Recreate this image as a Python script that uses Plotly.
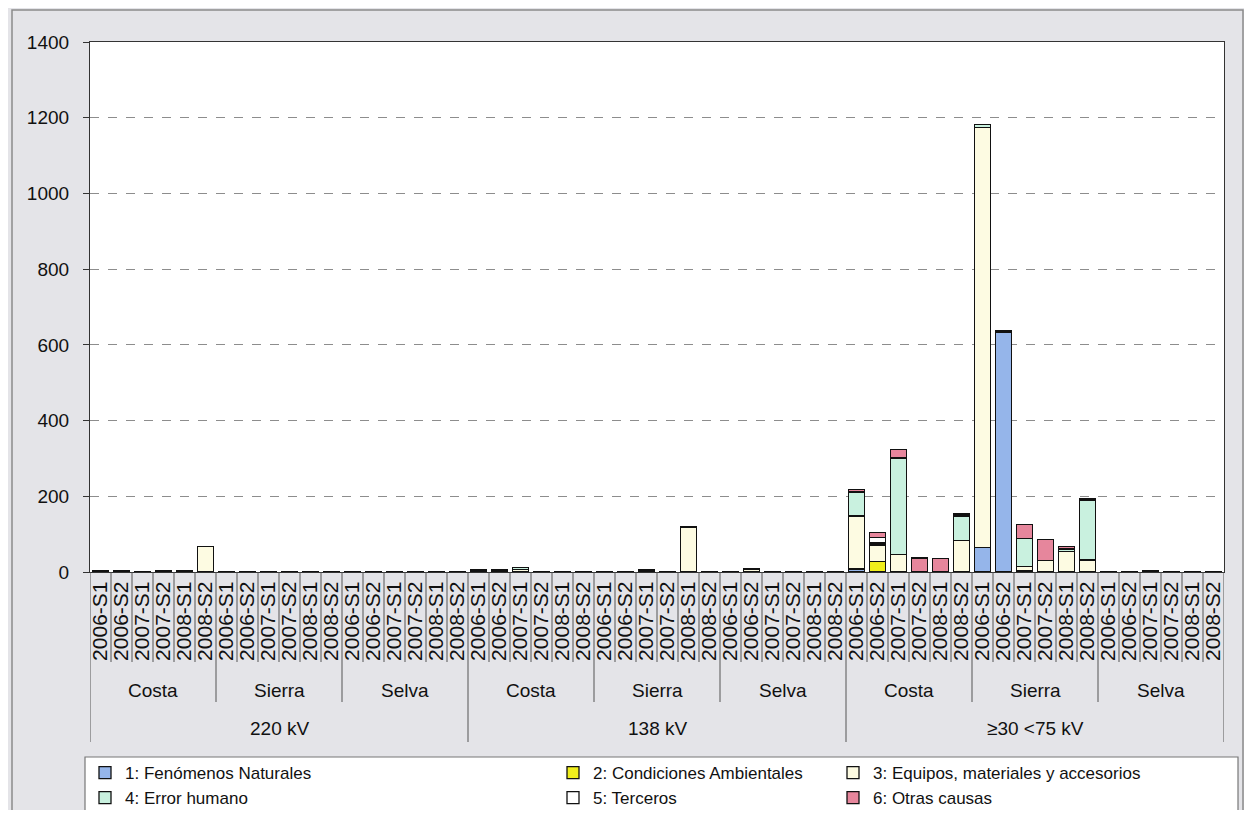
import plotly.graph_objects as go

# ---- data ----
voltages = ["220 kV", "138 kV", "≥30 <75 kV"]
regions = ["Costa", "Sierra", "Selva"]
periods = ["2006-S1", "2006-S2", "2007-S1", "2007-S2", "2008-S1", "2008-S2"]

series_names = [
    "1: Fenómenos Naturales",
    "2: Condiciones Ambientales",
    "3: Equipos, materiales y accesorios",
    "4: Error humano",
    "5: Terceros",
    "6: Otras causas",
]

# 54 bars: voltage x region x period
s1_fenomenos = [0, 0, 0, 0, 0, 0,  0, 0, 0, 0, 0, 0,  0, 0, 0, 0, 0, 0,
                0, 0, 0, 0, 0, 0,  0, 0, 0, 0, 0, 0,  0, 0, 0, 0, 0, 0,
                6, 0, 0, 0, 0, 0,  65, 632, 4, 0, 0, 0,  0, 0, 0, 0, 0, 0]
s2_condiciones = [0, 0, 0, 0, 0, 0,  0, 0, 0, 0, 0, 0,  0, 0, 0, 0, 0, 0,
                  0, 0, 0, 0, 0, 0,  0, 0, 0, 0, 0, 0,  0, 0, 0, 0, 0, 0,
                  4, 27, 0, 0, 0, 0,  0, 0, 0, 0, 0, 0,  0, 0, 0, 0, 0, 0]
s3_equipos = [2, 2, 1, 2, 2, 68,  0, 2, 0, 0, 0, 0,  0, 0, 0, 0, 0, 0,
              5, 4, 6, 2, 0, 2,  0, 0, 5, 2, 118, 2,  1, 6, 0, 0, 0, 2,
              138, 44, 46, 2, 2, 83,  1110, 0, 10, 30, 55, 32,  0, 1, 2, 0, 0, 2]
s4_error = [1, 1, 0, 1, 1, 0,  0, 0, 0, 0, 0, 0,  0, 0, 0, 0, 0, 0,
            2, 2, 6, 0, 0, 0,  0, 0, 1, 0, 2, 0,  0, 2, 0, 0, 0, 0,
            63, 6, 255, 0, 0, 65,  7, 5, 75, 0, 6, 158,  0, 0, 2, 0, 0, 0]
s5_terceros = [0, 0, 0, 0, 0, 0,  0, 0, 0, 0, 0, 0,  0, 0, 0, 0, 0, 0,
               0, 0, 0, 0, 0, 0,  0, 0, 0, 0, 0, 0,  0, 0, 0, 0, 0, 0,
               0, 14, 0, 0, 0, 0,  0, 0, 0, 0, 0, 0,  0, 0, 0, 0, 0, 0]
s6_otras = [0, 0, 0, 0, 0, 0,  0, 0, 0, 0, 0, 0,  0, 0, 0, 0, 0, 0,
            0, 0, 0, 0, 0, 0,  0, 0, 0, 0, 0, 0,  0, 0, 0, 0, 0, 0,
            7, 14, 22, 35, 33, 5,  0, 0, 37, 55, 7, 5,  0, 0, 0, 0, 0, 0]

series_values = [s1_fenomenos, s2_condiciones, s3_equipos, s4_error, s5_terceros, s6_otras]
series_colors = ["#95b5ea", "#f0ee1c", "#fdfbe2", "#c9f1df", "#ffffff", "#e6869c"]
legend_ids = ["legend", "legend2", "legend3", "legend", "legend2", "legend3"]

y_ticks = [0, 200, 400, 600, 800, 1000, 1200, 1400]

n_cat = len(voltages) * len(regions) * len(periods)
x_idx = list(range(n_cat))
tick_text = periods * (len(voltages) * len(regions))

FONT = "Liberation Sans, Arial, sans-serif"

# page is offset by the 8px body margin; figure sized to fit the viewport
FIG_W, FIG_H, OFF = 1236, 802, 8
# plot area in page pixels
L, R, T, B = 90, 1224, 42, 572
def px_x(p):
    return (p - L) / (R - L)
def px_y(p):
    return (B - p) / (B - T)

fig = go.Figure()
for name, vals, col, lg in zip(series_names, series_values, series_colors, legend_ids):
    fig.add_trace(go.Bar(
        x=x_idx, y=vals, name=name, legend=lg,
        marker=dict(color=col, line=dict(color="#111111", width=1.3)),
    ))

shapes = []
# outer frame
shapes.append(dict(type="rect", xref="paper", yref="paper", x0=px_x(12), x1=px_x(1243),
                   y0=px_y(840), y1=px_y(10), fillcolor="rgba(0,0,0,0)",
                   line=dict(color="#8a8a8a", width=1.5), layer="below"))
# legend box
shapes.append(dict(type="rect", xref="paper", yref="paper", x0=px_x(85), x1=px_x(1238),
                   y0=px_y(840), y1=px_y(757), fillcolor="#ffffff",
                   line=dict(color="#777777", width=1.2), layer="below"))

# category dividers
for b in range(n_cat + 1):
    if b % 18 == 0:
        yend = px_y(742)
    elif b % 6 == 0:
        yend = px_y(702)
    else:
        yend = px_y(662)
    shapes.append(dict(type="line", xref="x", yref="paper", x0=b - 0.5, x1=b - 0.5,
                       y0=0, y1=yend, line=dict(color="#555555", width=1)))

annotations = []
for vi, v in enumerate(voltages):
    for ri, r in enumerate(regions):
        c = vi * 18 + ri * 6 + 2.5
        annotations.append(dict(x=c, y=px_y(690), xref="x", yref="paper", text=r,
                                showarrow=False, xanchor="center", yanchor="middle",
                                font=dict(size=19, color="#111111", family=FONT)))
    annotations.append(dict(x=vi * 18 + 8.5, y=px_y(728), xref="x", yref="paper", text=v,
                            showarrow=False, xanchor="center", yanchor="middle",
                            font=dict(size=19, color="#111111", family=FONT)))

leg_common = dict(orientation="v", traceorder="normal", bgcolor="rgba(0,0,0,0)",
                  borderwidth=0, font=dict(size=17, color="#111111", family=FONT),
                  yanchor="top", xanchor="left", itemclick=False, tracegroupgap=0,
                  maxheight=160)

fig.update_layout(
    width=FIG_W, height=FIG_H,
    margin=dict(l=L - OFF, r=FIG_W - (R - OFF), t=T - OFF, b=FIG_H - (B - OFF),
                autoexpand=False),
    paper_bgcolor="#e4e4e8",
    plot_bgcolor="#ffffff",
    barmode="stack",
    bargap=0.22,
    font=dict(family=FONT, color="#111111"),
    xaxis=dict(
        range=[-0.5, n_cat - 0.5], tickmode="array", tickvals=x_idx, ticktext=tick_text,
        tickangle=-90, ticks="", showgrid=False, zeroline=False, automargin=False,
        showline=True, linecolor="#333333", linewidth=1.2, mirror=True,
        tickfont=dict(size=21, color="#111111", family=FONT),
    ),
    yaxis=dict(
        range=[0, 1400], tickmode="array", tickvals=y_ticks, automargin=False,
        showgrid=True, gridcolor="#8d8d8d", griddash="dash", gridwidth=1,
        zeroline=False, showline=True, linecolor="#333333", linewidth=1.2, mirror=True,
        ticks="outside", ticklen=6, tickcolor="#333333", ticklabelstandoff=10,
        tickfont=dict(size=19, color="#111111", family=FONT),
    ),
    legend=dict(x=px_x(85), y=px_y(755), **leg_common),
    legend2=dict(x=px_x(553), y=px_y(755), **leg_common),
    legend3=dict(x=px_x(833), y=px_y(755), **leg_common),
    shapes=shapes,
    annotations=annotations,
)

fig.write_html("out.html")
